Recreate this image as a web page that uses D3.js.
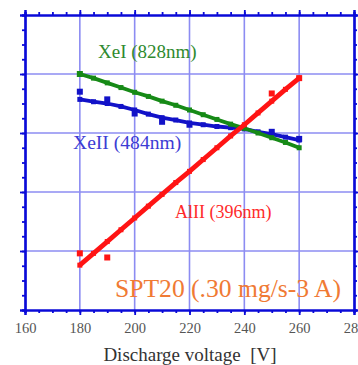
<!DOCTYPE html>
<html><head><meta charset="utf-8">
<script src="https://cdn.jsdelivr.net/npm/d3@7"></script>
<style>html,body{margin:0;padding:0;background:#fff;}svg{display:block;}</style>
</head><body>
<script>
const voltages = [180,185,190,195,200,205,210,215,220,225,230,235,240,245,250,255,260];
const xeI  = [4.00,3.93,3.85,3.77,3.69,3.62,3.54,3.47,3.39,3.31,3.23,3.15,3.08,3.00,2.92,2.84,2.75];
const xeII = [3.57,3.53,3.50,3.45,3.39,3.32,3.26,3.22,3.17,3.14,3.11,3.09,3.07,3.02,2.98,2.93,2.88];
const alII = [0.76,0.96,1.16,1.36,1.56,1.76,1.96,2.16,2.35,2.55,2.75,2.95,3.14,3.34,3.54,3.74,3.93];
const xeIIMarkV = [180,190,200,210,220,250,260];
const xeIIMarkY = [3.70,3.57,3.33,3.19,3.14,3.02,2.90];
const alIIMarkV = [180,190,250,260];
const alIIMarkY = [0.96,0.89,3.67,3.93];
const xeIMarkV = [180];
const xeIMarkY = [4.00];
const xTicks = [160,180,200,220,240,260,280];
const yTicks = [0,1,2,3,4,5];
const labels = ["XeI (828nm)","XeII (484nm)","AlII (396nm)","SPT20 (.30 mg/s-3 A)"];
const xTitle = "Discharge voltage  [V]";

const W=358,H=365;
const svg=d3.select("body").append("svg").attr("width",W).attr("height",H);
const x=d3.scaleLinear().domain([160,280]).range([25,354]);
const y=d3.scaleLinear().domain([0,5]).range([310,15]);
const axisCol="#0a0ad8", gridCol="#8c8cf2";
const serif="'Liberation Serif','Times New Roman',serif";

// grid
svg.append("g").selectAll("line").data(xTicks.slice(1,-1)).join("line")
  .attr("x1",d=>x(d)).attr("x2",d=>x(d)).attr("y1",y(5)).attr("y2",y(0))
  .attr("stroke",gridCol).attr("stroke-width",1.6);
svg.append("g").selectAll("line").data(yTicks.slice(1,-1)).join("line")
  .attr("y1",d=>y(d)).attr("y2",d=>y(d)).attr("x1",x(160)).attr("x2",x(280))
  .attr("stroke",gridCol).attr("stroke-width",1.6);

// axes
const xMinor=d3.range(160,281,5), yMinor=d3.range(0,5.01,0.25);
function styleAxis(g){
  g.select(".domain").attr("stroke",axisCol).attr("stroke-width",2.2);
  g.selectAll(".tick line").attr("stroke",axisCol).attr("stroke-width",1.8);
}
function addAxis(gen,tr,major,minor,labelsOn){
  const gm=svg.append("g").attr("transform",tr).call(gen.tickValues(minor).tickSize(3).tickFormat(""));
  styleAxis(gm);
  const gM=svg.append("g").attr("transform",tr).call(gen.tickValues(major).tickSize(5).tickFormat(labelsOn?d3.format("d"):""));
  styleAxis(gM);
  return gM;
}
const bx=addAxis(d3.axisBottom(x),`translate(0,${y(0)})`,xTicks,xMinor,true);
bx.selectAll("text").attr("font-family",serif).attr("font-size",14.5).attr("fill","#555").attr("dy","1.05em");
addAxis(d3.axisTop(x),`translate(0,${y(5)})`,xTicks,xMinor,false);
addAxis(d3.axisLeft(y),`translate(${x(160)},0)`,yTicks,yMinor,false);
addAxis(d3.axisRight(y),`translate(${x(280)},0)`,yTicks,yMinor,false);

// series
const line=d3.line().x(d=>x(d[0])).y(d=>y(d[1]));
function series(vals,col,w,mv,my){
  const pts=voltages.map((v,i)=>[v,vals[i]]);
  svg.append("path").datum(pts).attr("d",line).attr("fill","none").attr("stroke",col).attr("stroke-width",w);
  svg.append("g").selectAll("rect").data(pts).join("rect")
    .attr("x",d=>x(d[0])-2.5).attr("y",d=>y(d[1])-2.5).attr("width",5).attr("height",5).attr("fill",col);
  svg.append("g").selectAll("rect").data(mv.map((v,i)=>[v,my[i]])).join("rect")
    .attr("x",d=>x(d[0])-3).attr("y",d=>y(d[1])-3).attr("width",6).attr("height",6).attr("fill",col);
}
series(xeII,"#1212c8",3.8,xeIIMarkV,xeIIMarkY);
series(xeI,"#168a16",3.8,xeIMarkV,xeIMarkY);
series(alII,"#ff1414",4.8,alIIMarkV,alIIMarkY);

// labels
const lab=[
  {t:labels[0],x:98,y:58,c:"#2f8a2f",s:19},
  {t:labels[1],x:73,y:149,c:"#3c3cd4",s:19.6},
  {t:labels[2],x:175,y:218,c:"#ff2a2a",s:18},
  {t:labels[3],x:115,y:297,c:"#f07a34",s:25.6}
];
svg.append("g").selectAll("text").data(lab).join("text")
  .attr("x",d=>d.x).attr("y",d=>d.y).attr("fill",d=>d.c).attr("font-size",d=>d.s)
  .attr("font-family",serif).text(d=>d.t);

svg.append("text").attr("x",190).attr("y",361).attr("text-anchor","middle")
  .attr("font-family",serif).attr("font-size",19).attr("fill","#333")
  .style("white-space","pre").text(xTitle);
</script>
</body></html>
